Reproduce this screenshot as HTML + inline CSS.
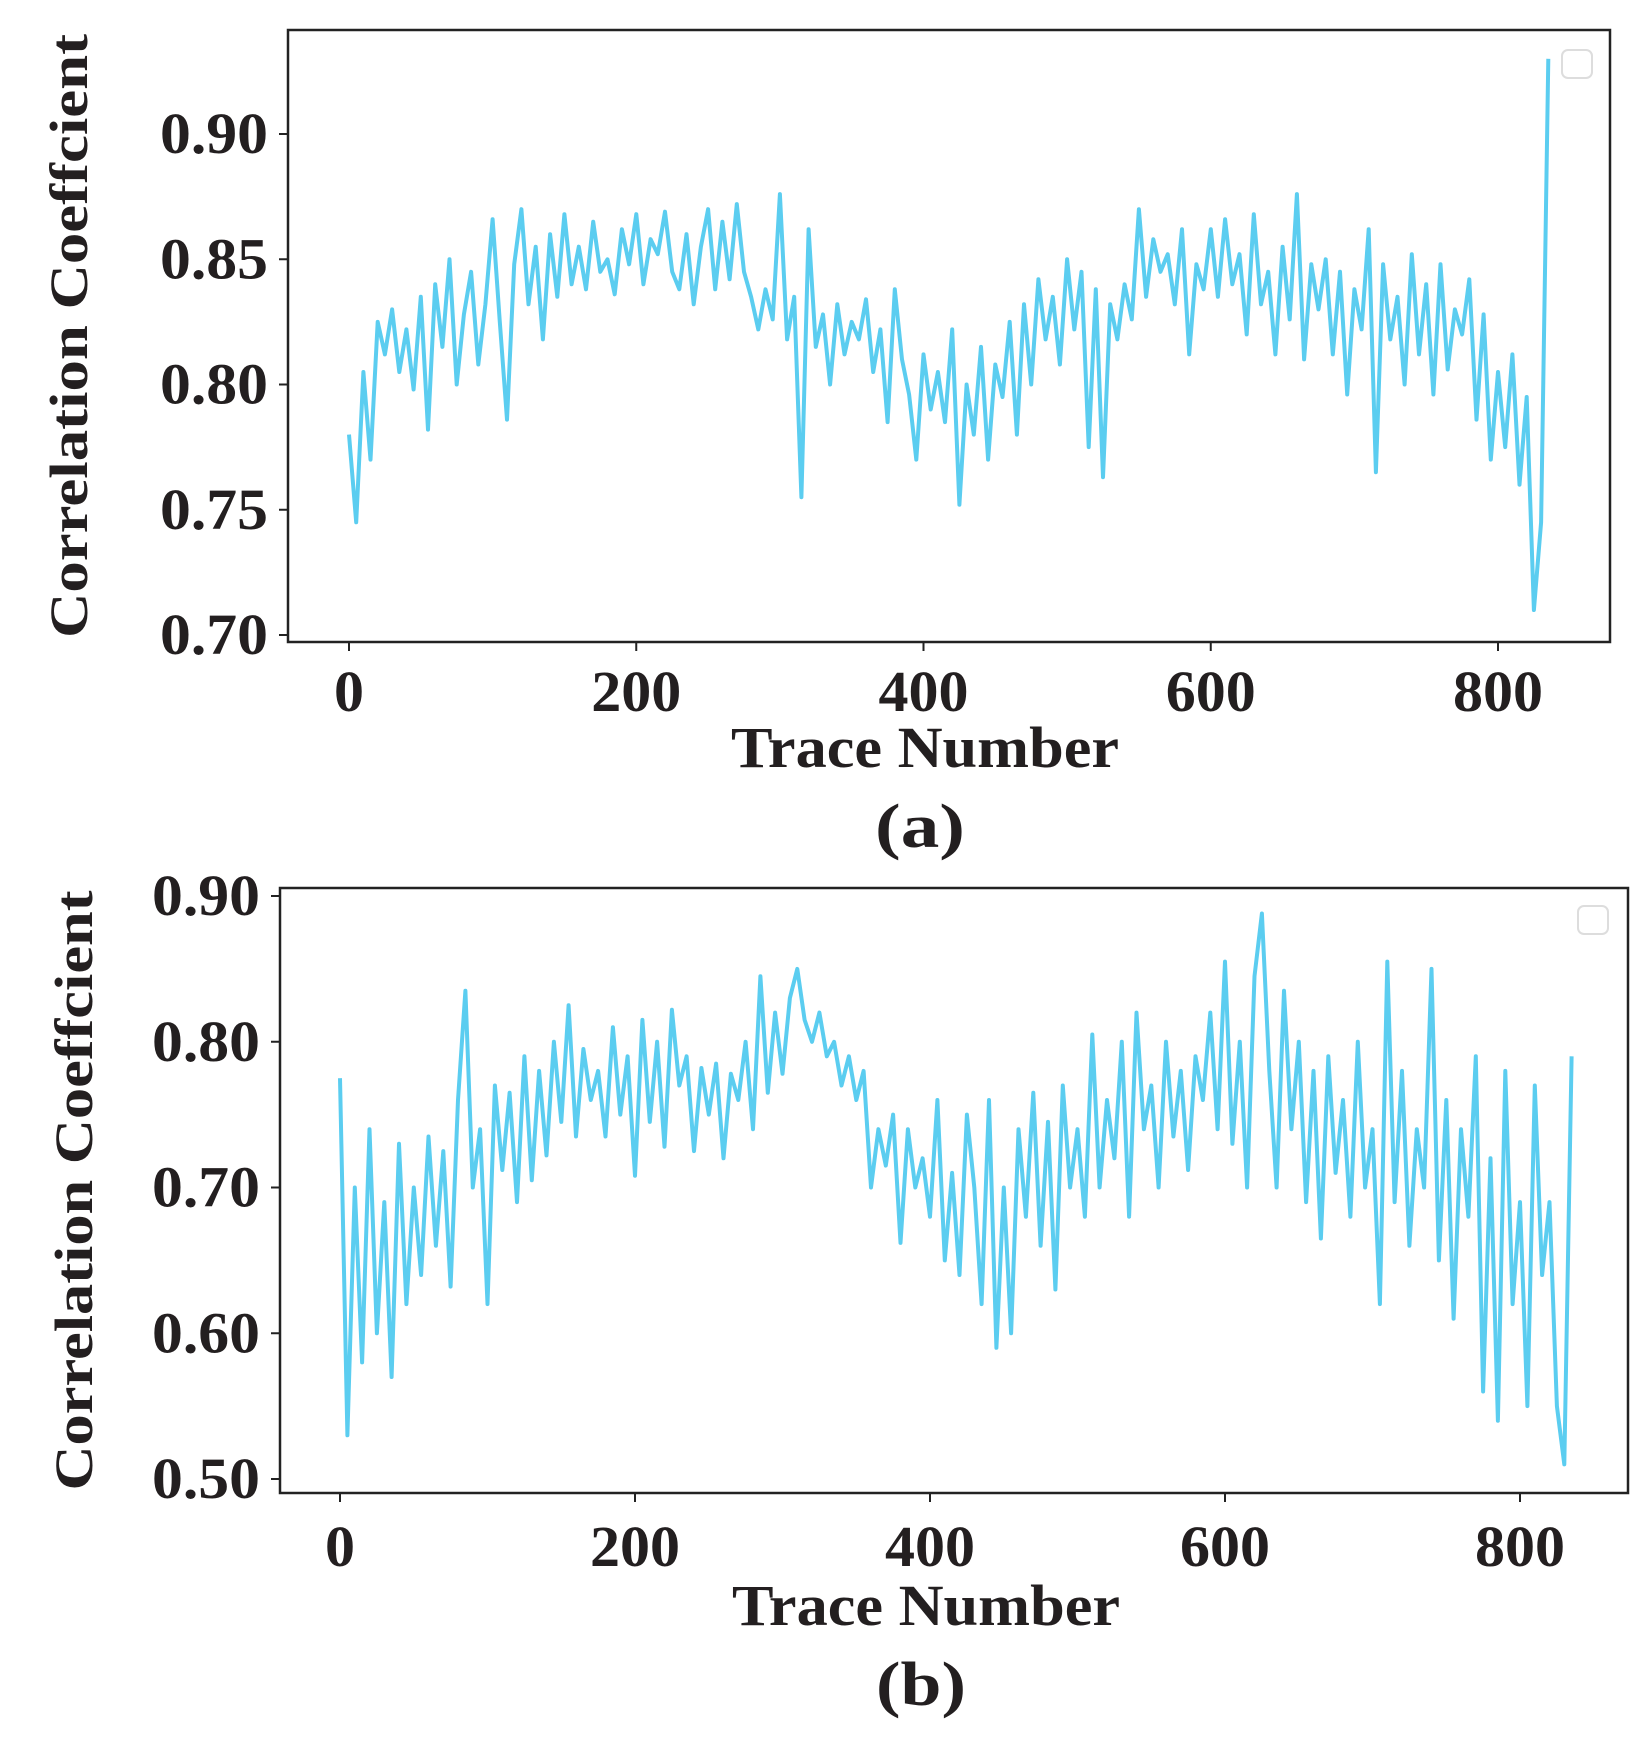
<!DOCTYPE html>
<html><head><meta charset="utf-8">
<style>
html,body{margin:0;padding:0;background:#fff;}
svg{display:block;}
text{font-family:"Liberation Serif","DejaVu Serif",serif;font-weight:bold;fill:#231f20;}
</style></head>
<body>
<svg id="fig" width="1644" height="1742" viewBox="0 0 1644 1742" xmlns="http://www.w3.org/2000/svg"></svg>
<script>
const step = 5;
const seriesA = [0.780,0.745,0.805,0.770,0.825,0.812,0.830,0.805,0.822,0.798,
0.835,0.782,0.840,0.815,0.850,0.800,0.828,0.845,0.808,0.832,
0.866,0.825,0.786,0.848,0.870,0.832,0.855,0.818,0.860,0.835,
0.868,0.840,0.855,0.838,0.865,0.845,0.850,0.836,0.862,0.848,
0.868,0.840,0.858,0.852,0.869,0.845,0.838,0.860,0.832,0.855,
0.870,0.838,0.865,0.842,0.872,0.845,0.835,0.822,0.838,0.826,
0.876,0.818,0.835,0.755,0.862,0.815,0.828,0.800,0.832,0.812,
0.825,0.818,0.834,0.805,0.822,0.785,0.838,0.810,0.796,0.770,
0.812,0.790,0.805,0.785,0.822,0.752,0.800,0.780,0.815,0.770,
0.808,0.795,0.825,0.780,0.832,0.800,0.842,0.818,0.835,0.808,
0.850,0.822,0.845,0.775,0.838,0.763,0.832,0.818,0.840,0.826,
0.870,0.835,0.858,0.845,0.852,0.832,0.862,0.812,0.848,0.838,
0.862,0.835,0.866,0.840,0.852,0.820,0.868,0.832,0.845,0.812,
0.855,0.826,0.876,0.810,0.848,0.830,0.850,0.812,0.845,0.796,
0.838,0.822,0.862,0.765,0.848,0.818,0.835,0.800,0.852,0.812,
0.840,0.796,0.848,0.806,0.830,0.820,0.842,0.786,0.828,0.770,
0.805,0.775,0.812,0.760,0.795,0.710,0.745,0.930];
const seriesB = [0.775,0.530,0.700,0.580,0.740,0.600,0.690,0.570,0.730,0.620,
0.700,0.640,0.735,0.660,0.725,0.632,0.760,0.835,0.700,0.740,
0.620,0.770,0.712,0.765,0.690,0.790,0.705,0.780,0.722,0.800,
0.745,0.825,0.735,0.795,0.760,0.780,0.735,0.810,0.750,0.790,
0.708,0.815,0.745,0.800,0.728,0.822,0.770,0.790,0.725,0.782,
0.750,0.785,0.720,0.778,0.760,0.800,0.740,0.845,0.765,0.820,
0.778,0.830,0.850,0.815,0.800,0.820,0.790,0.800,0.770,0.790,
0.760,0.780,0.700,0.740,0.715,0.750,0.662,0.740,0.700,0.720,
0.680,0.760,0.650,0.710,0.640,0.750,0.700,0.620,0.760,0.590,
0.700,0.600,0.740,0.680,0.765,0.660,0.745,0.630,0.770,0.700,
0.740,0.680,0.805,0.700,0.760,0.720,0.800,0.680,0.820,0.740,
0.770,0.700,0.800,0.735,0.780,0.712,0.790,0.760,0.820,0.740,
0.855,0.730,0.800,0.700,0.845,0.888,0.780,0.700,0.835,0.740,
0.800,0.690,0.780,0.665,0.790,0.710,0.760,0.680,0.800,0.700,
0.740,0.620,0.855,0.690,0.780,0.660,0.740,0.700,0.850,0.650,
0.760,0.610,0.740,0.680,0.790,0.560,0.720,0.540,0.780,0.620,
0.690,0.550,0.770,0.640,0.690,0.550,0.510,0.790];
const xTicks = [0,200,400,600,800];
const xTickLabels = ["0","200","400","600","800"];
const yTicksA = [0.70,0.75,0.80,0.85,0.90];
const yTickLabelsA = ["0.70","0.75","0.80","0.85","0.90"];
const yTicksB = [0.50,0.60,0.70,0.80,0.90];
const yTickLabelsB = ["0.50","0.60","0.70","0.80","0.90"];

const NS = "http://www.w3.org/2000/svg";
const svg = document.getElementById('fig');
function mk(tag, attrs, parent){const e=document.createElementNS(NS,tag);for(const k in attrs)e.setAttribute(k,attrs[k]);(parent||svg).appendChild(e);return e;}

function panel(p){
  const g = mk('g',{});
  
  
  const sx = v => p.x0px + (v - 0) * (p.x800px - p.x0px) / 800;
  const sy = v => p.yLoPx + (v - p.yLo) * (p.yHiPx - p.yLoPx) / (p.yHi - p.yLo);
  const frame = mk('rect',{x:p.L,y:p.T,width:p.R-p.L,height:p.B-p.T,fill:'none',stroke:'#222',
    'stroke-width':2.5},g);
  
  
  xTicks.forEach((t,i)=>{
    const x=sx(t);
    const tk=mk('line',{x1:x,x2:x,y1:p.B,y2:p.B+9,stroke:'#222','stroke-width':2},g);
    
    
    const w = xTickLabels[i].length*30;
    const tl=mk('text',{x:x,y:p.xTickY,'font-size':58,'text-anchor':'middle',textLength:w,lengthAdjust:'spacingAndGlyphs'},g);
    tl.textContent=xTickLabels[i];
    
    
  });
  p.yTicks.forEach((t,i)=>{
    const y=sy(t);
    const tk=mk('line',{x1:p.L-9,x2:p.L,y1:y,y2:y,stroke:'#222','stroke-width':2},g);
    
    
    const tl=mk('text',{x:p.L-20,y:y+19,'font-size':58,'text-anchor':'end',textLength:108,lengthAdjust:'spacingAndGlyphs'},g);
    tl.textContent=p.yLabels[i];
    
    
  });
  let d='';
  p.data.forEach((v,i)=>{d+=(i?'L':'M')+sx(i*step).toFixed(1)+','+sy(v).toFixed(1);});
  const line=mk('path',{d:d,fill:'none',stroke:'#5bcdf0','stroke-width':4,'stroke-linejoin':'round'},g);
  
  
  const lg=mk('rect',{x:p.legX,y:p.legY,width:30,height:28,rx:6,fill:'#fff',stroke:'#ddd','stroke-width':2},g);
  
  
  const xt=mk('text',{x:p.titleCx,y:p.xTitleY,'font-size':58,'text-anchor':'middle',textLength:388,lengthAdjust:'spacingAndGlyphs'},g);
  xt.textContent='Trace Number';
  
  
  const cy=(p.T+p.B)/2;
  const yt=mk('text',{x:0,y:0,'font-size':54,'text-anchor':'middle',textLength:p.yTitleLen,lengthAdjust:'spacingAndGlyphs',
    transform:'translate('+(p.yTitleX)+','+cy+') rotate(-90)'},g);
  yt.textContent='Correlation Coeffcient';
  
  
  const cap=mk('text',{x:p.titleCx-5,y:p.capY,'font-size':62,'text-anchor':'middle',textLength:90,lengthAdjust:'spacingAndGlyphs'},g);
  cap.textContent=p.cap;
  
  
}

panel({name:'panel-a',L:288,R:1610,T:30,B:642,x0px:349,x800px:1498,
  yLo:0.70,yHi:0.90,yLoPx:635,yHiPx:134,yTicks:yTicksA,yLabels:yTickLabelsA,data:seriesA,
  xTickY:711,xTitleY:767,capY:847,cap:'(a)',legX:1562,legY:50,yTitleX:87,yTitleLen:604,titleCx:925});
panel({name:'panel-b',L:280,R:1628,T:888,B:1493,x0px:340,x800px:1520,
  yLo:0.50,yHi:0.90,yLoPx:1479,yHiPx:896,yTicks:yTicksB,yLabels:yTickLabelsB,data:seriesB,
  xTickY:1566,xTitleY:1625,capY:1705,cap:'(b)',legX:1578,legY:906,yTitleX:92,yTitleLen:600,titleCx:926});
</script>
</body></html>
